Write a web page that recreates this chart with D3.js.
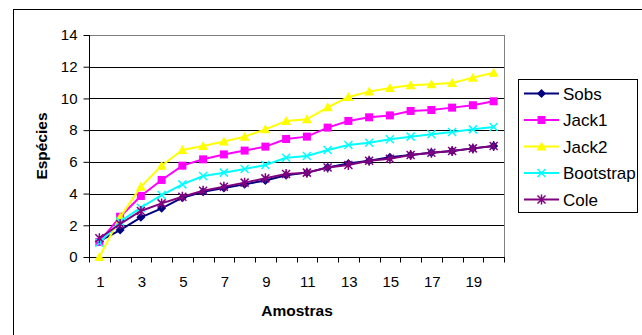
<!DOCTYPE html>
<html><head><meta charset="utf-8">
<script src="https://cdn.jsdelivr.net/npm/d3@7"></script>
<style>body{margin:0;background:#fff;}svg{display:block;font-family:"Liberation Sans",Arial,sans-serif;}</style>
</head><body><svg id="c" width="642" height="335"></svg>
<script>
const categories = d3.range(1, 21);
const xTickLabels = [1,3,5,7,9,11,13,15,17,19];
const yTicks = [0,2,4,6,8,10,12,14];
const seriesNames = ["Sobs","Jack1","Jack2","Bootstrap","Cole"];
const seriesColors = ["#000080","#FF00FF","#FFFF00","#00FFFF","#800080"];
const sobs = [1.0,1.7,2.5,3.07,3.74,4.12,4.35,4.58,4.83,5.15,5.32,5.65,5.9,6.07,6.29,6.43,6.58,6.68,6.85,7.0];
const jack1 = [0.95,2.54,3.85,4.86,5.76,6.16,6.47,6.71,6.96,7.44,7.59,8.16,8.58,8.81,8.93,9.21,9.27,9.42,9.57,9.82];
const jack2 = [0.0,2.5,4.43,5.76,6.75,7.0,7.29,7.59,8.05,8.58,8.68,9.44,10.09,10.43,10.66,10.83,10.89,10.97,11.31,11.62];
const bootstrap = [0.9,2.23,3.11,3.91,4.58,5.11,5.32,5.55,5.8,6.26,6.37,6.75,7.06,7.21,7.42,7.59,7.74,7.88,8.05,8.2];
const cole = [1.18,2.08,2.9,3.38,3.8,4.18,4.43,4.69,4.96,5.23,5.32,5.65,5.8,6.07,6.2,6.43,6.58,6.68,6.85,7.0];
const seriesValues = [sobs, jack1, jack2, bootstrap, cole];
const markerTypes = ["diamond","square","triangle","x","star"];

const svg = d3.select("#c");
const L = 89, R = 504, T = 35, B = 257;

// outer frame
svg.append("rect").attr("x",13.5).attr("y",9.5).attr("width",660).attr("height",400)
  .attr("fill","none").attr("stroke","#000").attr("stroke-width",1);

const x = d3.scaleBand().domain(categories).range([L, R]).padding(0);
const y = d3.scaleLinear().domain([0,14]).range([B, T]);

// gridlines
svg.append("g").selectAll("line").data(yTicks.slice(1)).join("line")
  .attr("x1",L).attr("x2",R).attr("y1",d=>Math.round(y(d))+0.5).attr("y2",d=>Math.round(y(d))+0.5)
  .attr("stroke",d=>d===14?"#808080":"#000").attr("stroke-width",1);
// right border
svg.append("line").attr("x1",R+0.5).attr("x2",R+0.5).attr("y1",T).attr("y2",B).attr("stroke","#808080");

// y axis
const yAxis = svg.append("g").attr("transform",`translate(${L+0.5},0)`)
  .call(d3.axisLeft(y).tickValues(yTicks).tickSize(6).tickPadding(6).tickFormat(d3.format("d")));
yAxis.selectAll("text").attr("font-size",15).attr("fill","#000").attr("font-family","Liberation Sans, Arial, sans-serif");
yAxis.selectAll("line,path").attr("stroke","#000");
yAxis.select("path").attr("d",`M0,${T}V${B+0.5}`);

// x axis
const xg = svg.append("g").attr("transform",`translate(0,${Math.round(B)+0.5})`);
xg.append("line").attr("x1",L).attr("x2",R+1).attr("stroke","#000");
const bounds = categories.map(c=>x(c)).concat([R]);
xg.selectAll("line.tk").data(bounds).join("line").attr("class","tk")
  .attr("x1",d=>Math.round(d)+0.5).attr("x2",d=>Math.round(d)+0.5).attr("y1",0).attr("y2",5).attr("stroke","#000");
xg.selectAll("text").data(xTickLabels).join("text")
  .attr("x",d=>x(d)+x.bandwidth()/2+1).attr("y",29.5).attr("text-anchor","middle")
  .attr("font-size",15).text(d=>d);

// axis titles
svg.append("text").attr("x",297).attr("y",316).attr("text-anchor","middle")
  .attr("font-size",15.5).attr("font-weight","bold").text("Amostras");
svg.append("text").attr("transform","translate(46.5,146) rotate(-90)").attr("text-anchor","middle")
  .attr("font-size",15.5).attr("font-weight","bold").text("Espécies");

function drawMarker(g, type, cx, cy, color){
  if(type==="diamond"){
    g.append("path").attr("d",`M${cx},${cy-4.5}L${cx+4.5},${cy}L${cx},${cy+4.5}L${cx-4.5},${cy}Z`).attr("fill",color);
  } else if(type==="square"){
    g.append("rect").attr("x",cx-4).attr("y",cy-4).attr("width",8).attr("height",8).attr("fill",color);
  } else if(type==="triangle"){
    g.append("path").attr("d",`M${cx},${cy-5}L${cx+5},${cy+4}L${cx-5},${cy+4}Z`).attr("fill",color);
  } else if(type==="x"){
    g.append("path").attr("d",`M${cx-4},${cy-4}L${cx+4},${cy+4}M${cx-4},${cy+4}L${cx+4},${cy-4}`).attr("stroke",color).attr("stroke-width",1.5);
  } else if(type==="star"){
    g.append("path").attr("d",`M${cx-4},${cy-4}L${cx+4},${cy+4}M${cx-4},${cy+4}L${cx+4},${cy-4}M${cx},${cy-5}L${cx},${cy+5}`).attr("stroke",color).attr("stroke-width",1.5);
  }
}

const line = d3.line().x((d,i)=>x(categories[i])+x.bandwidth()/2).y(d=>y(d));
seriesValues.forEach((vals, si)=>{
  const g = svg.append("g");
  g.append("path").datum(vals).attr("d",line).attr("fill","none").attr("stroke",seriesColors[si]).attr("stroke-width",2);
  vals.forEach((v,i)=>drawMarker(g, markerTypes[si], x(categories[i])+x.bandwidth()/2, y(v), seriesColors[si]));
});

// legend
const lg = svg.append("g");
lg.append("rect").attr("x",518.5).attr("y",79.5).attr("width",119).attr("height",133).attr("fill","#fff").attr("stroke","#000");
seriesNames.forEach((n,i)=>{
  const yy = 93.5 + i*26.5;
  lg.append("line").attr("x1",524).attr("x2",559).attr("y1",yy).attr("y2",yy).attr("stroke",seriesColors[i]).attr("stroke-width",2);
  drawMarker(lg, markerTypes[i], 541.5, yy, seriesColors[i]);
  lg.append("text").attr("x",563).attr("y",yy+6).attr("font-size",17).text(n);
});
</script></body></html>
